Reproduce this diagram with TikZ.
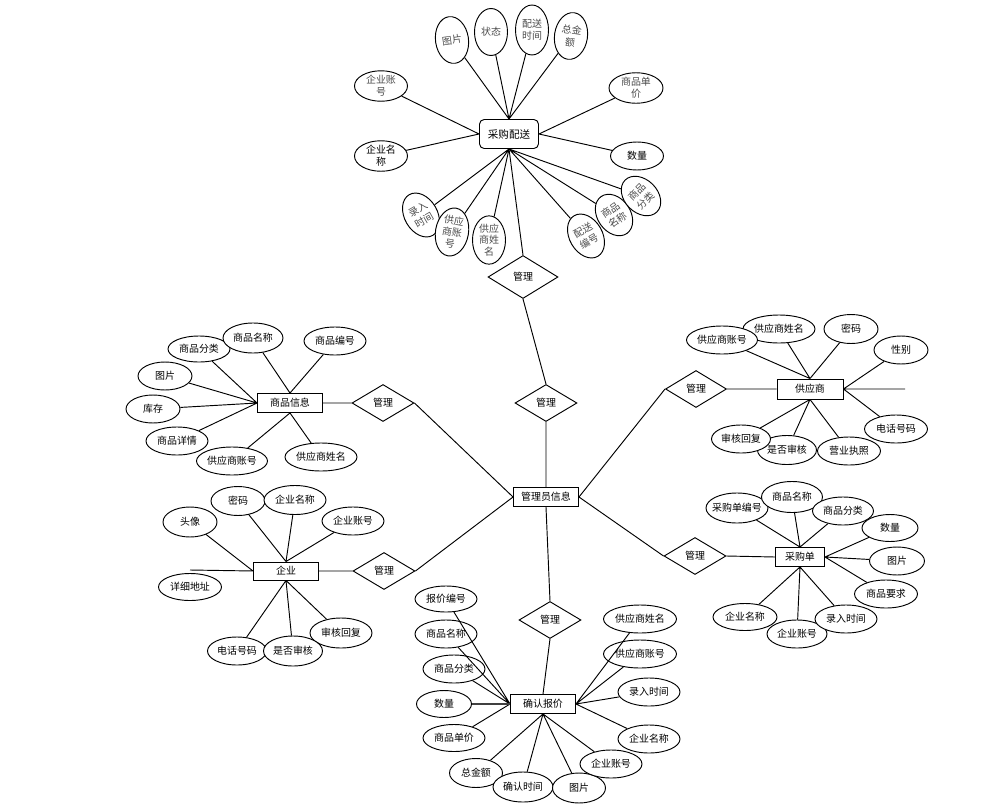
\documentclass[tikz,border=0pt]{standalone}
\usepackage{fontspec}
\setmainfont{Noto Sans CJK SC}
\usetikzlibrary{shapes.geometric}

\begin{document}
\begin{tikzpicture}[x=0.03cm,y=-0.03cm,line width=0.8pt,font=\fontsize{8.5}{11}\selectfont,
	attr/.style={ellipse,draw,fill=white,inner sep=0pt,minimum width=1.86cm,minimum height=0.84cm},
	sattr/.style={attr,minimum width=1.62cm},
	lattr/.style={attr,minimum width=2.16cm},
	vattr/.style={attr,minimum width=0.99cm,minimum height=1.41cm,align=center,text=black!70,font=\fontsize{8.5}{10.5}\selectfont},
	ent/.style={draw,fill=white,minimum width=1.95cm,minimum height=0.57cm,inner sep=0pt},
	rel/.style={diamond,draw,fill=white,minimum width=1.86cm,minimum height=1.11cm,inner sep=0pt}]
	\useasboundingbox (0,0) rectangle (998,805);
	% 采购配送
	\node[ent,rounded corners=4pt,minimum width=1.77cm,minimum height=0.87cm,font=\fontsize{9}{11}\selectfont] (cgps) at (509,134) {采购配送};
	\node[vattr,rotate=8] (ps-tp) at (452,40) {图片};
	\node[vattr] (ps-zt) at (491,32) {状态};
	\node[vattr,minimum height=1.5cm] (ps-sj) at (532,30) {配送\\时间};
	\node[vattr,rotate=-8] (ps-je) at (571,36) {总金\\额};
	\node[vattr,minimum width=1.59cm,minimum height=0.84cm] (ps-zh) at (381,86) {企业账\\号};
	\node[vattr,minimum width=1.62cm,minimum height=0.9cm] (ps-dj) at (636,88) {商品单\\价};
	\node[vattr,minimum width=1.59cm,minimum height=0.84cm,text=black] (ps-mc) at (381,156) {企业名\\称};
	\node[vattr,minimum width=1.59cm,minimum height=0.84cm,text=black] (ps-sl) at (637,156) {数量};
	\node[vattr,rotate=30] (ps-lr) at (421,215) {录入\\时间};
	\node[vattr,rotate=-10,minimum height=1.45cm,font=\fontsize{8.5}{10}\selectfont] (ps-gz) at (452,232) {供应\\商账\\号};
	\node[vattr,minimum height=1.45cm,font=\fontsize{8.5}{10}\selectfont] (ps-gx) at (489,240) {供应\\商姓\\名};
	\node[vattr,rotate=30] (ps-bh) at (586,236) {配送\\编号};
	\node[vattr,rotate=35,minimum height=1.35cm] (ps-pm) at (614,215) {商品\\名称};
	\node[vattr,rotate=45,minimum height=1.35cm] (ps-fl) at (641,196) {商品\\分类};
	\node[rel,minimum width=2.1cm,minimum height=1.29cm] (r-ps) at (523,277) {管理};
	\draw (ps-tp)--(cgps.north) (ps-zt)--(cgps.north) (ps-sj)--(cgps.north) (ps-je)--(cgps.north);
	\draw (ps-zh)--(cgps.west) (ps-mc)--(cgps.west) (ps-dj)--(cgps.east) (ps-sl)--(cgps.east);
	\draw (ps-lr)--(cgps.south) (ps-gz)--(cgps.south) (ps-gx)--(cgps.south) (r-ps.north)--(cgps.south);
	\draw (ps-bh)--(cgps.south) (ps-pm)--(cgps.south) (ps-fl)--(cgps.south);
	% 管理员信息
	\node[ent] (gly) at (546,497) {管理员信息};
	\node[rel,minimum width=1.86cm] (r-gly) at (546,403) {管理};
	\draw (r-ps.south)--(r-gly.north) (r-gly.south)--(gly.north);
	% 商品信息
	\node[ent] (spxx) at (290,403) {商品信息};
	\node[attr,minimum height=0.78cm] (sp-fl) at (199,349) {商品分类};
	\node[attr,minimum width=1.8cm,minimum height=0.9cm] (sp-mc) at (253,338) {商品名称};
	\node[attr] (sp-bh) at (335,341) {商品编号};
	\node[sattr] (sp-tp) at (165,376) {图片};
	\node[sattr] (sp-kc) at (153,409) {库存};
	\node[attr] (sp-xq) at (177,441) {商品详情};
	\node[lattr,minimum width=2.13cm] (sp-gz) at (232,461) {供应商账号};
	\node[lattr] (sp-gx) at (321,457) {供应商姓名};
	\node[rel] (r-sp) at (383,403) {管理};
	\draw (sp-fl)--(spxx.west) (sp-tp)--(spxx.west) (sp-kc)--(spxx.west) (sp-xq)--(spxx.west);
	\draw (sp-mc)--(spxx.north) (sp-bh)--(spxx.north) (sp-gz)--(spxx.south) (sp-gx)--(spxx.south);
	\draw (spxx.east)--(r-sp.west) (r-sp.east)--(gly.west);
	% 供应商
	\node[ent,minimum width=1.98cm,minimum height=0.6cm] (gys) at (810,389) {供应商};
	\node[lattr] (gys-gx) at (779,329) {供应商姓名};
	\node[lattr,minimum width=2.13cm] (gys-zh) at (722,340) {供应商账号};
	\node[sattr,minimum height=0.87cm] (gys-mm) at (851,329) {密码};
	\node[sattr] (gys-xb) at (901,350) {性别};
	\node[attr,minimum width=1.89cm] (gys-dh) at (896,429) {电话号码};
	\node[attr,minimum width=1.77cm,minimum height=0.87cm] (gys-sf) at (787,450) {是否审核};
	\node[attr,minimum width=1.77cm] (gys-sh) at (741,439) {审核回复};
	\node[attr,minimum width=1.89cm] (gys-yy) at (849,451) {营业执照};
	\node[rel,minimum width=1.83cm] (r-gys) at (696,389) {管理};
	\coordinate (gys-end) at (905,389);
	\draw (gys-zh)--(gys.north) (gys-gx)--(gys.north) (gys-mm)--(gys.north);
	\draw (gys-xb)--(gys.east) (gys-dh)--(gys.east) (gys.east)--(gys-end);
	\draw (gys-sh)--(gys.south) (gys-sf)--(gys.south) (gys-yy)--(gys.south);
	\draw (r-gys.east)--(gys.west) (r-gys.west)--(gly.east);
	% 企业
	\node[ent,minimum height=0.54cm] (qy) at (286,571) {企业};
	\node[sattr,minimum height=0.9cm] (qy-tx) at (190,522) {头像};
	\node[sattr,minimum height=0.87cm] (qy-mm) at (238,501) {密码};
	\node[attr,minimum height=0.87cm] (qy-mc) at (295,500) {企业名称};
	\node[attr] (qy-zh) at (353,521) {企业账号};
	\node[attr,minimum width=1.89cm,minimum height=0.81cm] (qy-dz) at (190,587) {详细地址};
	\node[attr,minimum height=0.9cm] (qy-sh) at (341,633) {审核回复};
	\node[attr,minimum width=1.77cm] (qy-dh) at (237,651) {电话号码};
	\node[attr,minimum width=1.77cm,minimum height=0.9cm] (qy-sf) at (293,651) {是否审核};
	\node[rel] (r-qy) at (384,571) {管理};
	\coordinate (qy-end) at (190,570);
	\draw (qy-tx)--(qy.west) (qy-end)--(qy.west);
	\draw (qy-mm)--(qy.north) (qy-mc)--(qy.north) (qy-zh)--(qy.north);
	\draw (qy-dh)--(qy.south) (qy-sf)--(qy.south) (qy-sh)--(qy.south);
	\draw (qy.east)--(r-qy.west) (r-qy.east)--(gly.west);
	% 采购单
	\node[ent,minimum width=1.47cm] (cgd) at (800,557) {采购单};
	\node[attr,inner xsep=-3pt,minimum height=0.9cm] (cgd-bh) at (737,508) {采购单编号};
	\node[attr,minimum width=1.83cm,minimum height=0.93cm] (cgd-mc) at (792,497) {商品名称};
	\node[attr,minimum width=1.83cm] (cgd-fl) at (843,511) {商品分类};
	\node[sattr,minimum width=1.68cm,minimum height=0.81cm] (cgd-sl) at (890,528) {数量};
	\node[sattr,minimum width=1.65cm] (cgd-tp) at (897,561) {图片};
	\node[attr,minimum width=1.89cm] (cgd-yq) at (886,594) {商品要求};
	\node[attr,minimum width=1.92cm,minimum height=0.81cm] (cgd-qm) at (745,617) {企业名称};
	\node[attr,minimum width=1.8cm] (cgd-zh) at (797,634) {企业账号};
	\node[attr] (cgd-lr) at (846,619) {录入时间};
	\node[rel] (r-cgd) at (695,556) {管理};
	\draw (cgd-bh)--(cgd.north) (cgd-mc)--(cgd.north) (cgd-fl)--(cgd.north);
	\draw (cgd-sl)--(cgd.east) (cgd-tp)--(cgd.east) (cgd-yq)--(cgd.east);
	\draw (cgd-lr)--(cgd.south) (cgd-zh)--(cgd.south) (cgd-qm)--(cgd.south);
	\draw (r-cgd.east)--(cgd.west) (r-cgd.west)--(gly.east);
	% 确认报价
	\node[ent] (qrbj) at (543,704) {确认报价};
	\node[rel] (r-qr) at (550,620) {管理};
	\node[attr,minimum height=0.78cm] (qr-bh) at (446,599) {报价编号};
	\node[attr] (qr-mc) at (446,634) {商品名称};
	\node[attr] (qr-fl) at (454,669) {商品分类};
	\node[sattr,minimum width=1.65cm,minimum height=0.81cm] (qr-sl) at (444,704) {数量};
	\node[attr,minimum height=0.81cm] (qr-dj) at (454,738) {商品单价};
	\node[sattr,minimum width=1.59cm,minimum height=0.87cm] (qr-je) at (476,773) {总金额};
	\node[attr,minimum width=1.8cm,minimum height=0.9cm] (qr-sj) at (523,787) {确认时间};
	\node[sattr,minimum width=1.59cm,minimum height=0.9cm] (qr-tp) at (579,788) {图片};
	\node[attr] (qr-zh) at (611,764) {企业账号};
	\node[attr] (qr-qm) at (649,739) {企业名称};
	\node[attr] (qr-lr) at (649,692) {录入时间};
	\node[lattr,minimum width=2.19cm] (qr-gz) at (640,654) {供应商账号};
	\node[lattr,minimum width=2.19cm] (qr-gx) at (640,619) {供应商姓名};
	\draw (gly.south)--(r-qr.north) (r-qr.south)--(qrbj.north);
	\draw (qr-bh)--(qrbj.west) (qr-mc)--(qrbj.west) (qr-fl)--(qrbj.west) (qr-dj)--(qrbj.west);
	\draw[line width=1.4pt,black!75] (qr-sl)--(qrbj.west);
	\draw (qr-je)--(qrbj.south) (qr-sj)--(qrbj.south) (qr-tp)--(qrbj.south) (qr-zh)--(qrbj.south);
	\draw (qr-qm)--(qrbj.east) (qr-lr)--(qrbj.east) (qr-gz)--(qrbj.east) (qr-gx)--(qrbj.east);
\end{tikzpicture}
\end{document}
